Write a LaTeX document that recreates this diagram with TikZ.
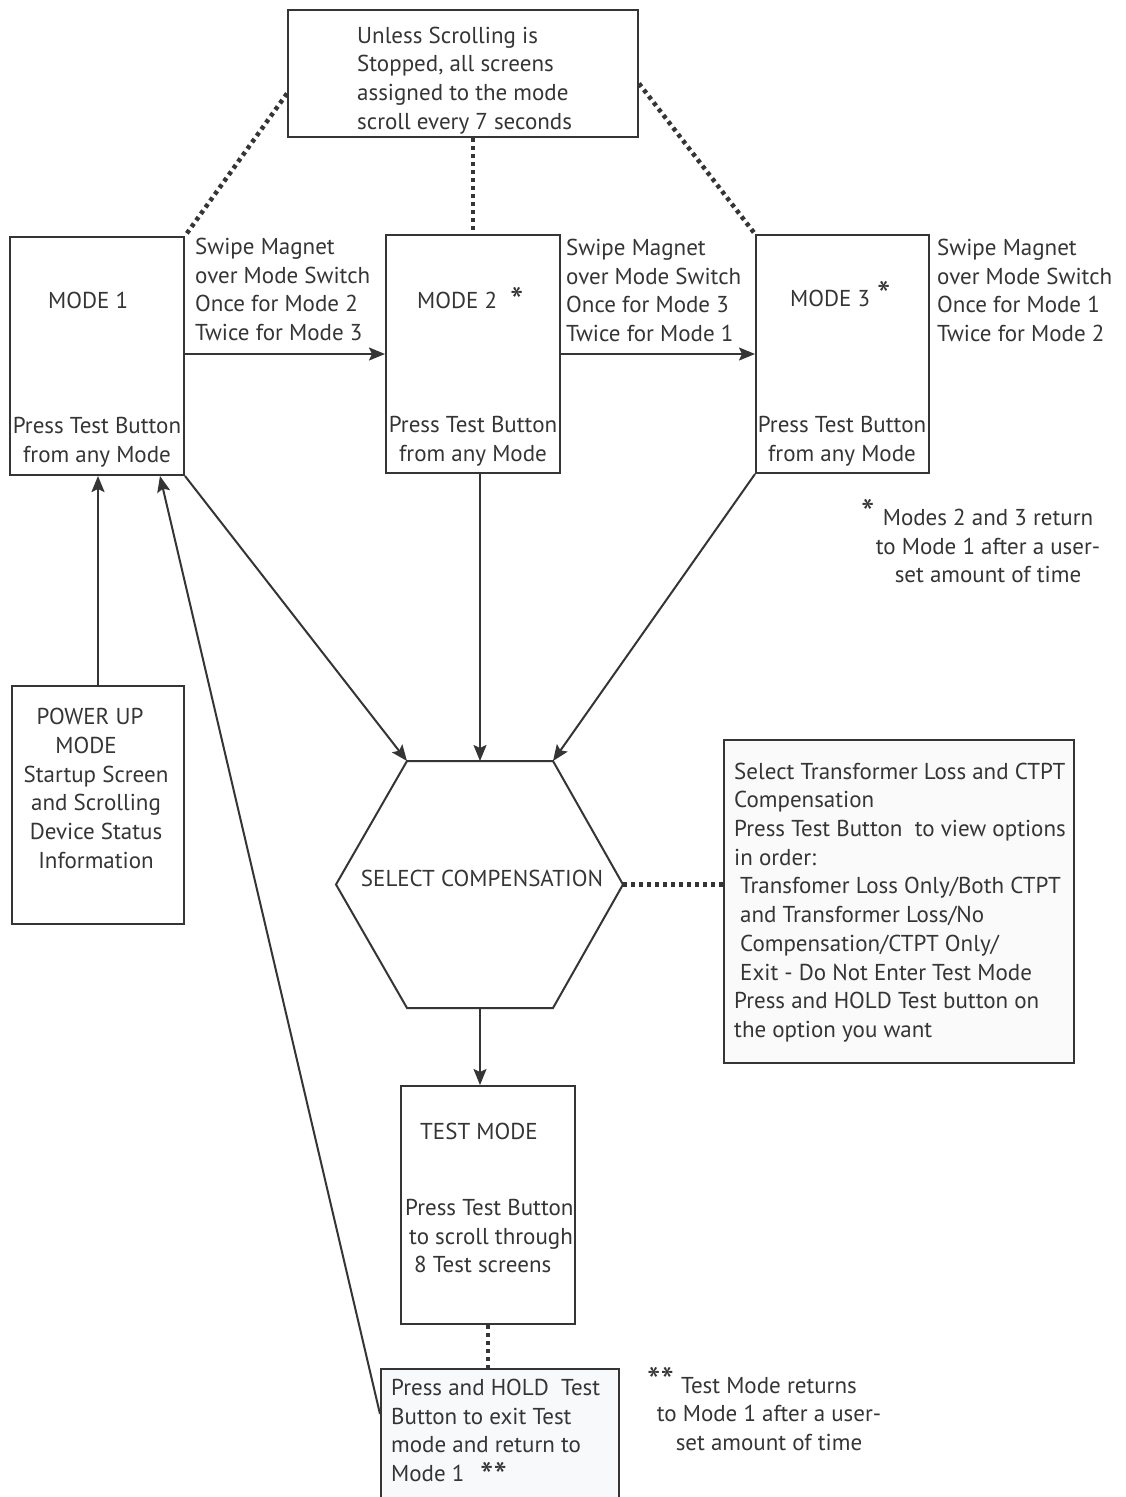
\documentclass[tikz,border=0pt]{standalone}
\usepackage{fontspec}
\setmainfont{PT Sans}
\usetikzlibrary{arrows.meta,calc}
\definecolor{ink}{HTML}{353535}
\definecolor{paleA}{HTML}{F8F9FB}
\definecolor{paleB}{HTML}{FAFAFA}
\newcommand{\lowstar}[1]{\raisebox{-16pt}{#1}}
\begin{document}
\begin{tikzpicture}[x=1pt,y=-1pt,
  box/.style={draw=ink, line width=2pt, rectangle, inner sep=0pt},
  txt/.style={text=ink, inner sep=0pt, font=\fontsize{23}{28.7}\selectfont},
  arr/.style={draw=ink, line width=2pt, -{Stealth[length=16pt,width=13pt,inset=3pt]}},
  dots/.style={draw=ink, line width=4.5pt, dash pattern=on 4pt off 4pt},
  star/.style={text=ink, inner sep=0pt, text depth=0pt, font=\fontsize{38}{38}\selectfont}]
\useasboundingbox (0,0) rectangle (1125,1497);
\fill[white] (0,0) rectangle (1125,1497);

% boxes
\node[box, minimum width=350pt, minimum height=127pt] (top) at (463,73.5) {};
\node[box, minimum width=174pt, minimum height=238pt] (m1) at (97,356) {};
\node[box, minimum width=174pt, minimum height=238pt] (m2) at (473,354) {};
\node[box, minimum width=173pt, minimum height=238pt] (m3) at (842.5,354) {};
\node[box, minimum width=172pt, minimum height=238pt] (pu) at (98,805) {};
\node[box, minimum width=174pt, minimum height=238pt] (tm) at (488,1205) {};
\node[box, fill=paleA, minimum width=238pt, minimum height=134pt] (hold) at (500,1436) {};
\node[box, fill=paleB, minimum width=350pt, minimum height=323pt] (rbox) at (899,901.5) {};

% hexagon
\coordinate (hTL) at (407,761);
\coordinate (hT)  at (480,761);
\coordinate (hTR) at (553,761);
\coordinate (hR)  at (623,884.5);
\coordinate (hBR) at (553,1008);
\coordinate (hB)  at (480,1008);
\coordinate (hBL) at (407,1008);
\coordinate (hL)  at (336,884.5);
\draw[ink, line width=2pt, line join=miter] (hTL) -- (hTR) -- (hR) -- (hBR) -- (hBL) -- (hL) -- cycle;

% texts
\node[txt, anchor=west, align=left] (ttop) at (357,80.5)
  {Unless Scrolling is\\Stopped, all screens\\assigned to the mode\\scroll every 7 seconds};
\node[txt, anchor=west] (t1) at (48,300) {MODE 1};
\node[txt, anchor=west] (t2) at (417,300) {MODE 2};
\node[star, anchor=west] (s2) at (510,293) {\lowstar{*}};
\node[txt, anchor=west] (t3) at (790,298) {MODE 3};
\node[star, anchor=west] (s3) at (877,287) {\lowstar{*}};
\node[txt, align=center] (p1) at (97,442) {Press Test Button\\from any Mode};
\node[txt, align=center] (p2) at (473,441) {Press Test Button\\from any Mode};
\node[txt, align=center] (p3) at (842,441) {Press Test Button\\from any Mode};
\node[txt, anchor=west, align=left] (w1) at (195,289.5)
  {Swipe Magnet\\over Mode Switch\\Once for Mode 2\\Twice for Mode 3};
\node[txt, anchor=west, align=left] (w2) at (566,290.5)
  {Swipe Magnet\\over Mode Switch\\Once for Mode 3\\Twice for Mode 1};
\node[txt, anchor=west, align=left] (w3) at (937,290.5)
  {Swipe Magnet\\over Mode Switch\\Once for Mode 1\\Twice for Mode 2};
\node[txt, align=center] (tpu) at (96,788.5)
  {POWER UP\hbox to 12pt{}\\MODE\hbox to 20pt{}\\Startup Screen\\and Scrolling\\Device Status\\Information};
\node[txt] (thex) at (482,878) {SELECT COMPENSATION};
\node[txt, anchor=west, align=left] (trb) at (734,902.5)
  {Select Transformer Loss and CTPT\\Compensation\\Press Test Button\ \ to view options\\in order:\\
   \hspace*{6pt}Transfomer Loss Only/Both CTPT\\\hspace*{6pt}and Transformer Loss/No\\
   \hspace*{6pt}Compensation/CTPT Only/\\\hspace*{6pt}Exit - Do Not Enter Test Mode\\
   Press and HOLD Test button on\\the option you want};
\node[txt, anchor=west] (ttm) at (420,1131) {TEST MODE};
\node[txt, anchor=west, align=left] (ttm2) at (405,1236)
  {Press Test Button\\\hspace*{4pt}to scroll through\\\hspace*{9pt}8 Test screens};
\node[txt, anchor=west, align=left] (thold) at (391,1430.5)
  {Press and HOLD\ \ Test\\Button to exit Test\\mode and return to\\Mode 1};
\node[star, anchor=west] (shold) at (480,1468) {\lowstar{**}};
\node[txt, align=center] (note1) at (988,546)
  {Modes 2 and 3 return\\to Mode 1 after a user-\\set amount of time};
\node[star, anchor=west] (snote1) at (861,505) {\lowstar{*}};
\node[txt, align=center] (note2) at (769,1414)
  {Test Mode returns\\to Mode 1 after a user-\\set amount of time};
\node[star, anchor=west] (snote2) at (647,1373) {\lowstar{**}};

% arrows
\draw[arr] (m1.east |- m2.west) -- (m2.west);
\draw[arr] (m2.east) -- (m3.west);
\draw[arr] (pu.north) -- (pu.north |- m1.south);
\draw[arr] ([yshift=-46pt]hold.north west) -- ([xshift=63pt]m1.south);
\draw[arr] (m1.south east) -- (hTL);
\draw[arr] (hT |- m2.south) -- (hT);
\draw[arr] (m3.south west) -- (hTR);
\draw[arr] (hB) -- (hB |- tm.north);

% dotted connectors
\draw[dots] ([yshift=-20pt]top.west) -- (m1.north east);
\draw[dots] ([yshift=-10pt]top.east) -- (m3.north west);
\draw[dots] (m2.north |- top.south) -- (m2.north);
\draw[dots] (hR) -- (hR -| rbox.west);
\draw[dots] (tm.south) -- (tm.south |- hold.north);
\end{tikzpicture}
\end{document}
